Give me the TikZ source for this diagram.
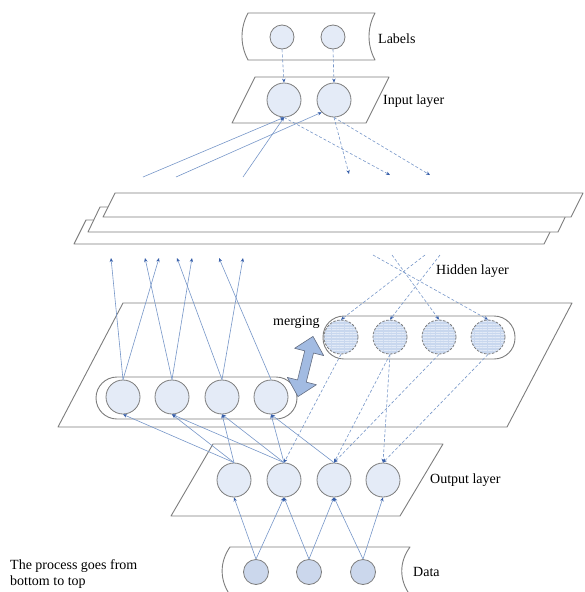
\documentclass[tikz,border=0pt]{standalone}
\usepackage{fontspec}
\setmainfont{Liberation Serif}
\usetikzlibrary{arrows.meta,patterns.meta}

\definecolor{edgegray}{RGB}{125,125,125}
\definecolor{cellfill}{RGB}{228,235,247}
\definecolor{datafill}{RGB}{203,215,236}
\definecolor{stripefill}{RGB}{200,215,238}
\definecolor{stripeline}{RGB}{226,234,247}
\definecolor{linkblue}{RGB}{118,150,200}
\definecolor{tipblue}{RGB}{55,95,170}
\definecolor{mergefill}{RGB}{162,187,226}
\definecolor{mergeedge}{RGB}{100,110,130}

\begin{document}
\begin{tikzpicture}[x=1pt,y=-1pt,
  frame/.style={draw=edgegray, line width=0.9pt, fill=white, line join=round},
  neuron/.style={circle, draw=edgegray, line width=0.8pt, fill=cellfill,
    minimum size=34pt, inner sep=0pt},
  smallneuron/.style={neuron, minimum size=24pt},
  datanode/.style={neuron, fill=datafill, minimum size=25pt},
  stripenode/.style={neuron, fill=none, dash pattern=on 2.5pt off 1.5pt,
    preaction={fill=stripefill},
    pattern={Lines[angle=0,distance=2.6pt,line width=0.5pt]},
    pattern color=stripeline},
  link/.style={draw=linkblue, line width=0.6pt,
    -{Stealth[length=4pt,width=3.4pt,color=tipblue]}},
  dlink/.style={link, dash pattern=on 3pt off 2pt},
  caption/.style={font=\fontsize{14}{16}\selectfont, inner sep=0pt}
]
\useasboundingbox (0,0) rectangle (585,592);
\clip (0,0) rectangle (585,592);

% ---- layer frames ----
% labels tape
\draw[frame] (248,13) -- (375,13) .. controls (367,28) and (367,45) .. (375,60)
  -- (248,60) .. controls (240,45) and (240,28) .. (248,13) -- cycle;
% input layer
\draw[frame] (255,77) -- (389,77) -- (366,123) -- (232,123) -- cycle;
% hidden layer sheets, back to front
\draw[frame] (86,220) -- (556,220) -- (544,244) -- (74,244) -- cycle;
\draw[frame] (100,207) -- (570,207) -- (558,232) -- (88,232) -- cycle;
\draw[frame] (115,193) -- (583,193) -- (571,217) -- (103,217) -- cycle;
% middle plane with the two rows
\draw[frame] (123,303) -- (572,303) -- (507,427) -- (58,427) -- cycle;
\draw[frame, rounded corners=21pt] (96,377) rectangle (297,419);
\draw[frame, rounded corners=21pt] (323,316) rectangle (515,359);
% output layer
\draw[frame] (213,444) -- (443,444) -- (400,516) -- (171,516) -- cycle;
% data tape
\draw[frame] (230,547) -- (410,547) .. controls (399,562) and (399,580) .. (410,595)
  -- (230,595) .. controls (219.5,580) and (219.5,562) .. (230,547) -- cycle;

% ---- units ----
\node[smallneuron] (lab1) at (282,37) {};
\node[smallneuron] (lab2) at (333,37) {};
\node[neuron] (in1) at (284,100) {};
\node[neuron] (in2) at (334,100) {};
\foreach \i/\x in {1/123,2/172,3/222,4/271}
  \node[neuron] (L\i) at (\x,397) {};
\foreach \i/\x in {1/341,2/390,3/439,4/488}
  \node[stripenode] (R\i) at (\x,337) {};
\foreach \i/\x in {1/234,2/284,3/334,4/383}
  \node[neuron] (o\i) at (\x,480) {};
\foreach \i/\x in {1/256,2/309,3/363}
  \node[datanode] (d\i) at (\x,572) {};

% ---- free ends at the hidden sheets ----
\coordinate (hA) at (143,177);
\coordinate (hB) at (176,177);
\coordinate (hC) at (243,177);
\coordinate (tA) at (390,175);
\coordinate (tB) at (349,174);
\coordinate (tC) at (430,175);
\foreach \i/\x in {1/111,2/145,3/159,4/177,5/192,6/219,7/243}
  \coordinate (u\i) at (\x,258);
\foreach \i/\x in {1/373,2/392,3/425,4/440}
  \coordinate (v\i) at (\x,255);

% ---- connectors ----
\draw[dlink] (lab1.south) -- (in1.north);
\draw[dlink] (lab2.south) -- (in2.north);

\draw[link] (hA) -- (in1.south);
\draw[link] (hB) -- (in2.south west);
\draw[link] (hC) -- (in1.south);
\draw[dlink] (in1.south) -- (tA);
\draw[dlink] (in2.south) -- (tB);
\draw[dlink] (in2.south) -- (tC);

\draw[link] (L1.north) -- (u1);
\draw[link] (L1.north) -- (u3);
\draw[link] (L2.north) -- (u2);
\draw[link] (L2.north) -- (u5);
\draw[link] (L3.north) -- (u4);
\draw[link] (L3.north) -- (u7);
\draw[link] (L4.north) -- (u6);

\draw[dlink] (v1) -- (R4.north);
\draw[dlink] (v2) -- (R3.north);
\draw[dlink] (v3) -- (R1.north);
\draw[dlink] (v4) -- (R2.north);

\draw[link] (o1.north) -- (L1.south);
\draw[link] (o1.north) -- (L2.south);
\draw[link] (o1.north) -- (L3.south);
\draw[link] (o2.north) -- (L2.south);
\draw[link] (o2.north) -- (L3.south);
\draw[link] (o2.north) -- (L4.south);
\draw[link] (o3.north) -- (L4.south);

\draw[dlink] (R1.south) -- (o2.north);
\draw[dlink] (R2.south) -- (o3.north);
\draw[dlink] (R2.south) -- (o4.north);
\draw[dlink] (R3.south) -- (o3.north);
\draw[dlink] (R4.south) -- (o4.north);

\draw[link] (d1.north) -- (o1.south);
\draw[link] (d1.north) -- (o2.south);
\draw[link] (d2.north) -- (o2.south);
\draw[link] (d2.north) -- (o3.south);
\draw[link] (d3.north) -- (o3.south);
\draw[link] (d3.north) -- (o4.south);

% ---- merging double arrow ----
\begin{scope}[shift={(305.5,366.5)}, rotate=76]
  \draw[fill=mergefill, draw=mergeedge, line width=0.6pt, line join=round]
    (31,0) -- (15,15) -- (15,4.5) -- (-15,4.5) -- (-15,15) -- (-31,0)
    -- (-15,-15) -- (-15,-4.5) -- (15,-4.5) -- (15,-15) -- cycle;
\end{scope}

% ---- captions ----
\node[caption, anchor=west] (capLabels) at (378,39) {Labels};
\node[caption, anchor=west] (capInput) at (383,101) {Input layer};
\node[caption, anchor=west] (capHidden) at (436,271) {Hidden layer};
\node[caption, anchor=west] (capMerge) at (273,322) {merging};
\node[caption, anchor=west] (capOutput) at (430,480) {Output layer};
\node[caption, anchor=west] (capData) at (413,572) {Data};
\node[caption, anchor=north west, align=left] (capProcess) at (10,559)
  {The process goes from\\bottom to top};
\end{tikzpicture}
\end{document}
